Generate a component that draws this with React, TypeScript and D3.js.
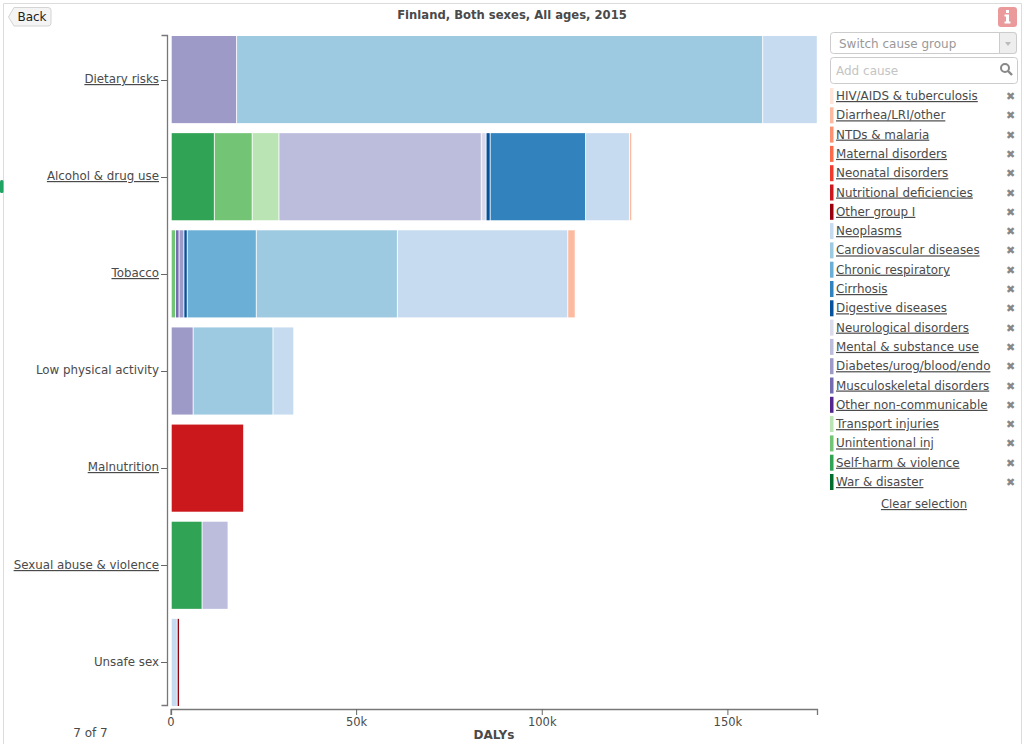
import React from 'react';
import * as d3 from 'd3';

// causes in legend order, bars stack them in reverse
const causes = [
  'HIV/AIDS & tuberculosis', 'Diarrhea/LRI/other', 'NTDs & malaria', 'Maternal disorders',
  'Neonatal disorders', 'Nutritional deficiencies', 'Other group I', 'Neoplasms',
  'Cardiovascular diseases', 'Chronic respiratory', 'Cirrhosis', 'Digestive diseases',
  'Neurological disorders', 'Mental & substance use', 'Diabetes/urog/blood/endo',
  'Musculoskeletal disorders', 'Other non-communicable', 'Transport injuries',
  'Unintentional inj', 'Self-harm & violence', 'War & disaster',
];
const causeColors = [
  '#fee5d9', '#fcbba1', '#fc9272', '#fb6a4a', '#ef3b2c', '#cb181d', '#99000d',
  '#c6dbef', '#9ecae1', '#6baed6', '#3182bd', '#08519c',
  '#dadaeb', '#bcbddc', '#9e9ac8', '#756bb1', '#54278f',
  '#bae4b3', '#74c476', '#31a354', '#006d2c',
];

const risks = ['Dietary risks', 'Alcohol & drug use', 'Tobacco', 'Low physical activity', 'Malnutrition', 'Sexual abuse & violence', 'Unsafe sex'];
const linkedRisks = ['Dietary risks', 'Alcohol & drug use', 'Tobacco', 'Malnutrition', 'Sexual abuse & violence'];

// DALYs per risk
const dietary: [string, number][] = [['Diabetes/urog/blood/endo', 17600], ['Cardiovascular diseases', 141700], ['Neoplasms', 14700]];
const alcohol: [string, number][] = [
  ['Self-harm & violence', 11600], ['Unintentional inj', 10200], ['Transport injuries', 7200],
  ['Mental & substance use', 54500], ['Neurological disorders', 1300], ['Digestive diseases', 1100],
  ['Cirrhosis', 25700], ['Neoplasms', 11800], ['Diarrhea/LRI/other', 600],
];
const tobacco: [string, number][] = [
  ['Unintentional inj', 1150], ['Musculoskeletal disorders', 950], ['Diabetes/urog/blood/endo', 1300],
  ['Digestive diseases', 900], ['Chronic respiratory', 18600],
  ['Cardiovascular diseases', 38000], ['Neoplasms', 45900], ['Diarrhea/LRI/other', 2000],
];
const physical: [string, number][] = [['Diabetes/urog/blood/endo', 5900], ['Cardiovascular diseases', 21500], ['Neoplasms', 5600]];
const malnutrition: [string, number][] = [['Nutritional deficiencies', 19500]];
const sexualAbuse: [string, number][] = [['Self-harm & violence', 8300], ['Mental & substance use', 7000]];
const unsafeSex: [string, number][] = [['Neoplasms', 1600], ['Other group I', 400]];
const riskValues = [dietary, alcohol, tobacco, physical, malnutrition, sexualAbuse, unsafeSex];

const xTicks = [0, 50000, 100000, 150000];
const font = '"DejaVu Sans", Verdana, sans-serif';
const textColor = '#4a4a4a';

const rows = risks.map((risk, i) => {
  const row: Record<string, any> = { risk };
  riskValues[i].forEach(([cause, v]) => { row[cause] = v; });
  return row;
});

const App: React.FC = () => {
  const width = 1024;
  const height = 744;
  const x = d3.scaleLinear().domain([0, 174000]).range([171, 817]);
  const y = d3.scaleBand().domain(risks).range([36, 706]).paddingInner(0.103);
  const color = d3.scaleOrdinal<string, string>().domain(causes).range(causeColors);
  const stack = d3.stack<any>().keys([...causes].reverse()).value((d, k) => d[k] || 0);
  const series = stack(rows);
  const legendY = d3.scalePoint().domain(causes).range([87, 473]);

  return (
    <svg width={width} height={height} style={{ position: 'absolute', left: 0, top: 0, background: '#fff' }} fontFamily={font}>
      {/* frame */}
      <path d="M3.5,744V3.5H1021.5V744" fill="none" stroke="#dcdcdc" strokeWidth={1} />
      <rect x={0} y={180} width={3.5} height={13} rx={1.5} fill="#1fa463" />

      {/* back button */}
      <path d="M14,7.5H48a3,3 0 0 1 3,3V23a3,3 0 0 1 -3,3H14L8.5,17Z" fill="#f4f4f4" stroke="#d4d4d4" />
      <text x={32} y={21} fontSize={12} fill="#222" textAnchor="middle">Back</text>

      <text x={512} y={19} fontSize={11.6} fontWeight="bold" fill={textColor} textAnchor="middle">Finland, Both sexes, All ages, 2015</text>

      {/* bars */}
      {series.map(s => (
        <g key={s.key} fill={color(s.key)}>
          {s.filter(d => d[1] > d[0]).map(d => (
            <rect
              key={d.data.risk}
              x={x(d[0]) + 0.7}
              y={y(d.data.risk)}
              width={Math.max(x(d[1]) - x(d[0]) - 0.9, 1.4)}
              height={y.bandwidth()}
            />
          ))}
        </g>
      ))}

      {/* y axis */}
      <path d="M161.5,35.5H167.5V705.5H161.5" fill="none" stroke="#777" strokeWidth={1.3} />
      {risks.map(r => {
        const center = y(r)! + y.bandwidth() / 2;
        const cy = Math.round(center);
        return (
          <g key={r}>
            <line x1={161} x2={167} y1={cy + 0.5} y2={cy + 0.5} stroke="#666" />
            <text x={159} y={Math.round(center + 3.3)} fontSize={11.85} fill={textColor} textAnchor="end"
              textDecoration={linkedRisks.includes(r) ? 'underline' : undefined}>{r}</text>
          </g>
        );
      })}

      {/* x axis */}
      <path d="M171.5,715V709.5H817.5V715" fill="none" stroke="#777" strokeWidth={1.3} />
      {xTicks.map(t => (
        <g key={t}>
          <line x1={x(t)} x2={x(t)} y1={709} y2={715} stroke="#666" />
          <text x={x(t)} y={726} fontSize={11.5} fill={textColor} textAnchor="middle">{d3.format('~s')(t)}</text>
        </g>
      ))}
      <text x={494} y={739} fontSize={12} fontWeight="bold" fill={textColor} textAnchor="middle">DALYs</text>
      <text x={90.5} y={737} fontSize={12} fill={textColor} textAnchor="middle">7 of 7</text>

      {/* info button */}
      <rect x={998} y={7} width={19} height={20} rx={3} fill="#eb9a9c" />
      <rect x={1006} y={10} width={3} height={3} fill="#fff" />
      <path d="M1004.5,14.5h4.5v7h1.5v2h-6v-2h1.5v-5h-1.5Z" fill="#fff" />

      {/* switch cause group */}
      <rect x={830.5} y={32.5} width={186} height={21} rx={3} fill="#fff" stroke="#ccc" />
      <path d="M999.5,32.5h14a3,3 0 0 1 3,3v15a3,3 0 0 1 -3,3h-14Z" fill="#eee" stroke="#ccc" />
      <path d="M1005,42h6l-3,4Z" fill="#bbb" />
      <text x={839} y={48} fontSize={12} fill="#999">Switch cause group</text>

      {/* add cause */}
      <rect x={830.5} y={57.5} width={187} height={26} rx={3} fill="#fff" stroke="#ccc" />
      <text x={836} y={75} fontSize={12} fill="#c4c4c4">Add cause</text>
      <circle cx={1005} cy={68} r={4} fill="none" stroke="#888" strokeWidth={2} />
      <line x1={1008} y1={71} x2={1012} y2={75} stroke="#888" strokeWidth={2.4} />

      {/* selected causes */}
      {causes.map(c => {
        const ly = legendY(c)!;
        return (
          <g key={c}>
            <rect x={830} y={ly + 1} width={3.5} height={16} fill={color(c)} />
            <text x={836} y={ly + 13} fontSize={11.9} fill={textColor} textDecoration="underline">{c}</text>
            <text x={1010.5} y={ly + 13} fontSize={11} fontWeight="bold" fill="#888" textAnchor="middle">✖</text>
          </g>
        );
      })}
      <text x={924} y={508} fontSize={11.6} fill={textColor} textAnchor="middle" textDecoration="underline">Clear selection</text>
    </svg>
  );
};

export default App;
